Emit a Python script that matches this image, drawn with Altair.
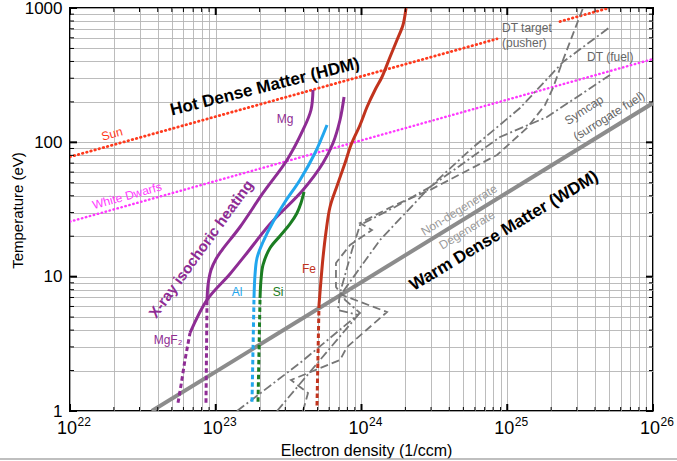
import altair as alt
import pandas as pd

# ---------------- data: electron density (1/ccm), temperature (eV) ----------------
sun_a_n = [1.0e22, 8.5e24]
sun_a_T = [78, 589]
sun_b_n = [2.3e25, 4.98e25]
sun_b_T = [793, 1000]
wd_n = [1.0e22, 1.0e26]
wd_T = [25.7, 417]
wdm_n = [3.64e22, 1.0e26]
wdm_T = [1.0, 196]

mgf2_dot_n = [5.51e22, 5.78e22, 6.15e22, 6.66e22]
mgf2_dot_T = [1.15, 1.56, 2.40, 3.81]
mgf2_n = [6.66e22, 8.71e22, 1.252e23, 1.638e23, 2.357e23, 3.968e23, 5.44e23, 6.38e23, 7.12e23, 7.59e23]
mgf2_T = [3.81, 6.71, 10.47, 15.01, 24.67, 44.19, 70.2, 98.9, 146.7, 217.6]

mg_dot_n = [8.57e22, 8.71e22]
mg_dot_T = [1.15, 6.48]
mg_n = [8.71e22, 8.85e22, 9.28e22, 1.004e23, 1.104e23, 1.467e23, 2.11e23, 3.083e23, 3.968e23, 4.502e23, 4.647e23]
mg_T = [6.48, 8.67, 11.21, 13.54, 15.79, 23.43, 41.97, 73.9, 123.6, 174.1, 245.2]

al_dot_n = [1.773e23, 1.83e23]
al_dot_T = [1.17, 6.94]
al_n = [1.83e23, 1.859e23, 1.919e23, 2.11e23, 2.47e23, 2.986e23, 3.784e23, 4.797e23, 5.80e23]
al_T = [6.94, 10.29, 13.77, 18.12, 25.53, 35.96, 52.45, 83.3, 134.6]

si_dot_n = [1.95e23, 2.013e23]
si_dot_T = [1.17, 6.94]
si_n = [2.013e23, 2.044e23, 2.11e23, 2.357e23, 2.76e23, 3.232e23, 3.61e23, 3.844e23, 4.032e23]
si_T = [6.94, 9.45, 12.22, 16.35, 20.08, 24.67, 29.79, 35.34, 42.69]

fe_dot_n = [4.95e23, 5.11e23]
fe_dot_T = [1.1, 6.15]
fe_n = [5.11e23, 5.275e23, 5.44e23, 5.706e23, 6.08e23, 6.79e23, 7.71e23, 8.47e23, 9.77e23,
        1.091e24, 1.238e24, 1.382e24, 1.569e24, 1.752e24, 1.926e24, 2.02e24]
fe_T = [6.15, 9.45, 13.77, 21.50, 33.01, 47.32, 70.2, 95.5, 134.6,
        183.3, 245.2, 306.4, 431.8, 578, 747.3, 1000]

# implosion trajectories (gray)
pusher_n = [3.968e23, 4.295e23, 3.284e23, 7.12e23, 7.955e23, 1.496e24, 7.35e23, 6.68e23, 6.68e23, 8.34e23,
            1.18e24, 9.77e23, 1.698e24, 2.951e24, 8.51e24, 1.366e25, 1.816e25, 2.06e25, 2.413e25, 3.31e25]
pusher_T = [1.0, 1.361, 1.701, 2.398, 2.995, 5.458, 7.30, 8.38, 12.64, 17.21,
            22.26, 25.09, 34.17, 44.19, 80.5, 127.9, 189.7, 253.8, 410, 1000]
fuel_n = [2.633e23, 9.46e23, 6.90e23, 7.12e23, 8.61e23, 9.77e23, 1.698e24, 2.951e24, 5.55e24, 1.223e25, 2.413e25, 5.07e25]
fuel_T = [1.0, 5.18, 5.65, 7.56, 15.79, 24.25, 33.01, 46.5, 87.7, 180.1, 396.4, 722]
symcap_n = [1.399e23, 3.784e23, 9.77e23, 7.71e23, 7.35e23, 1.339e24, 2.951e24, 8.92e24, 1.874e25, 5.07e25]
symcap_T = [1.0, 2.277, 5.365, 6.71, 7.56, 18.75, 46.5, 109.6, 154.4, 317.1]

# axis ticks / grid
x_major = [1e22, 1e23, 1e24, 1e25, 1e26]
x_exp = ["22", "23", "24", "25", "26"]
x_minor = [k * 10.0 ** d for d in range(22, 26) for k in range(2, 10)]
y_major = [1.0, 10.0, 100.0, 1000.0]
y_minor = [k * 10.0 ** d for d in range(0, 3) for k in range(2, 10)]

# ---------------- scales / axes ----------------
FONT = "Liberation Sans"
xs = alt.Scale(type="log", domain=[1e22, 1e26], nice=False)
ys = alt.Scale(type="log", domain=[1, 1000], nice=False)
GRID = "#b4b4b4"
xaxis = alt.Axis(values=sorted(x_major + x_minor), labels=False, ticks=False, domain=False,
                 grid=True, gridColor=GRID, gridWidth=0.9,
                 title="Electron density (1/ccm)", titleFontSize=16, titleFontWeight="normal",
                 titleColor="black", titleX=296, titleY=39, titleAlign="center", titleBaseline="middle")
yaxis = alt.Axis(values=sorted(y_major + y_minor), ticks=False, tickSize=0, domain=False,
                 grid=True, gridColor=GRID, gridWidth=0.9,
                 labelExpr="indexof([1,10,100,1000], datum.value) >= 0 ? toString(datum.value) : ''",
                 labelFontSize=17, labelPadding=8, labelColor="black", labelOverlap=False,
                 title="Temperature (eV)", titleFontSize=15, titleFontWeight="normal", titleColor="black",
                 titleX=-53, titleY=202, titleAngle=270, titleAlign="center", titleBaseline="middle")


def X():
    return alt.X("n:Q", scale=xs, axis=xaxis)


def Y():
    return alt.Y("T:Q", scale=ys, axis=yaxis)


def line(n, T, color, width, dash=None, cap="butt", interp="linear"):
    df = pd.DataFrame({"n": n, "T": T, "i": list(range(len(n)))})
    kw = dict(color=color, strokeWidth=width, strokeCap=cap, interpolate=interp, clip=True)
    if dash:
        kw["strokeDash"] = dash
    return alt.Chart(df).mark_line(**kw).encode(x=X(), y=Y(), order="i:Q")


def txt(s, n, T, color, size, angle=0, weight="normal", align="center"):
    df = pd.DataFrame({"n": [n], "T": [T], "s": [s]})
    return alt.Chart(df).mark_text(color=color, fontSize=size, angle=angle, fontWeight=weight,
                                   align=align, baseline="middle", font=FONT).encode(
        x=X(), y=Y(), text="s:N")


SUN = "#ff3b1e"
WD = "#ff38ff"
PURPLE = "#8e2c94"
BLUE = "#21a6ee"
GREEN = "#1b7d22"
FE = "#c1331d"
GRAY = "#767676"
DOT = [4.5, 3]

layers = []
# WDM boundary line
layers.append(line(wdm_n, wdm_T, "#8c8c8c", 4))
# Sun & white dwarfs
layers.append(line(sun_a_n, sun_a_T, SUN, 2.8, [0.5, 3.8], cap="round"))
layers.append(line(sun_b_n, sun_b_T, SUN, 2.8, [0.5, 3.8], cap="round"))
layers.append(line(wd_n, wd_T, WD, 2.4, [0.5, 3.6], cap="round"))
# trajectories
layers.append(line(pusher_n, pusher_T, GRAY, 1.8, [8, 4]))
layers.append(line(fuel_n, fuel_T, GRAY, 1.8, [9, 3, 2, 3]))
layers.append(line(symcap_n, symcap_T, GRAY, 1.8, [9, 3, 2, 3]))
# isochoric heating curves
layers.append(line(mgf2_dot_n, mgf2_dot_T, PURPLE, 3, DOT))
layers.append(line(mgf2_n, mgf2_T, PURPLE, 3, interp="catmull-rom"))
layers.append(line(mg_dot_n, mg_dot_T, PURPLE, 3, DOT))
layers.append(line(mg_n, mg_T, PURPLE, 3, interp="catmull-rom"))
layers.append(line(al_dot_n, al_dot_T, BLUE, 3, DOT))
layers.append(line(al_n, al_T, BLUE, 3, interp="catmull-rom"))
layers.append(line(si_dot_n, si_dot_T, GREEN, 3, DOT))
layers.append(line(si_n, si_T, GREEN, 3, interp="catmull-rom"))
layers.append(line(fe_dot_n, fe_dot_T, FE, 3, DOT))
layers.append(line(fe_n, fe_T, FE, 3, interp="catmull-rom"))

# inward frame ticks
def xt(vals, y0, y1, w):
    return alt.Chart(pd.DataFrame({"n": vals})).mark_rule(color="black", strokeWidth=w).encode(
        x=X(), y=alt.value(y0), y2=alt.value(y1))


def yt(vals, x0, x1, w):
    return alt.Chart(pd.DataFrame({"T": vals})).mark_rule(color="black", strokeWidth=w).encode(
        y=Y(), x=alt.value(x0), x2=alt.value(x1))


layers += [xt(x_major, 403, 396, 2), xt(x_minor, 403, 399, 1),
           xt(x_major, 0, 7, 2), xt(x_minor, 0, 4, 1),
           yt(y_major, 0, 7, 2), yt(y_minor, 0, 4, 1),
           yt(y_major, 583, 576, 2), yt(y_minor, 583, 579, 1)]

# x tick labels 10^n
xl = pd.DataFrame({"n": x_major, "b": ["10"] * len(x_major), "e": x_exp})
layers.append(alt.Chart(xl).mark_text(align="right", baseline="middle", fontSize=18, dx=7,
                                      font=FONT, color="black").encode(
    x=X(), y=alt.value(421), text="b:N"))
layers.append(alt.Chart(xl).mark_text(align="left", baseline="middle", fontSize=12, dx=7.5,
                                      font=FONT, color="black").encode(
    x=X(), y=alt.value(413.5), text="e:N"))

# annotations
layers += [
    txt("Hot Dense Matter (HDM)", 2.177e23, 258.2, "black", 17, 346, "bold"),
    txt("Warm Dense Matter (WDM)", 9.50e24, 21.9, "black", 17, 329, "bold"),
    txt("X-ray isochoric heating", 7.92e22, 16.07, PURPLE, 15, 306, "bold"),
    txt("Non-degenerate", 4.667e24, 31.4, "#9a9a9a", 12, 328.5),
    txt("Degenerate", 5.295e24, 22.3, "#9a9a9a", 12, 328.5),
    txt("Sun", 1.942e22, 115.4, SUN, 12, 344.5),
    txt("White Dwarfs", 2.461e22, 39.9, WD, 12, 344.5),
    txt("Mg", 2.986e23, 149.2, PURPLE, 12),
    txt("MgF₂", 4.703e22, 3.378, PURPLE, 12),
    txt("Al", 1.399e23, 7.69, BLUE, 12),
    txt("Si", 2.674e23, 7.69, GREEN, 12),
    txt("Fe", 4.364e23, 11.41, FE, 12),
    txt("DT target", 9.2e24, 710, "#666666", 12, 0, "normal", "left"),
    txt("(pusher)", 9.2e24, 549, "#666666", 12, 0, "normal", "left"),
    txt("DT (fuel)", 3.526e25, 432, "#666666", 12, 0, "normal", "left"),
    txt("Symcap", 3.362e25, 174.1, "#666666", 12, 327),
    txt("(surrogate fuel)", 4.99e25, 157.1, "#666666", 12, 328),
]

# thin separator line below the figure
layers.append(alt.Chart(pd.DataFrame({"a": [0]})).mark_rule(color="#aaaaaa", strokeWidth=1.5).encode(
    x=alt.value(-70), x2=alt.value(607), y=alt.value(451)))

chart = alt.layer(*layers).properties(
    width=583, height=403,
    autosize=alt.AutoSizeParams(type="none"),
    padding={"left": 70, "top": 8, "right": 24, "bottom": 50},
).configure(background="white", font=FONT).configure_view(stroke="black", strokeWidth=2)

chart.save("out.html", embed_options={"renderer": "svg", "actions": False})
